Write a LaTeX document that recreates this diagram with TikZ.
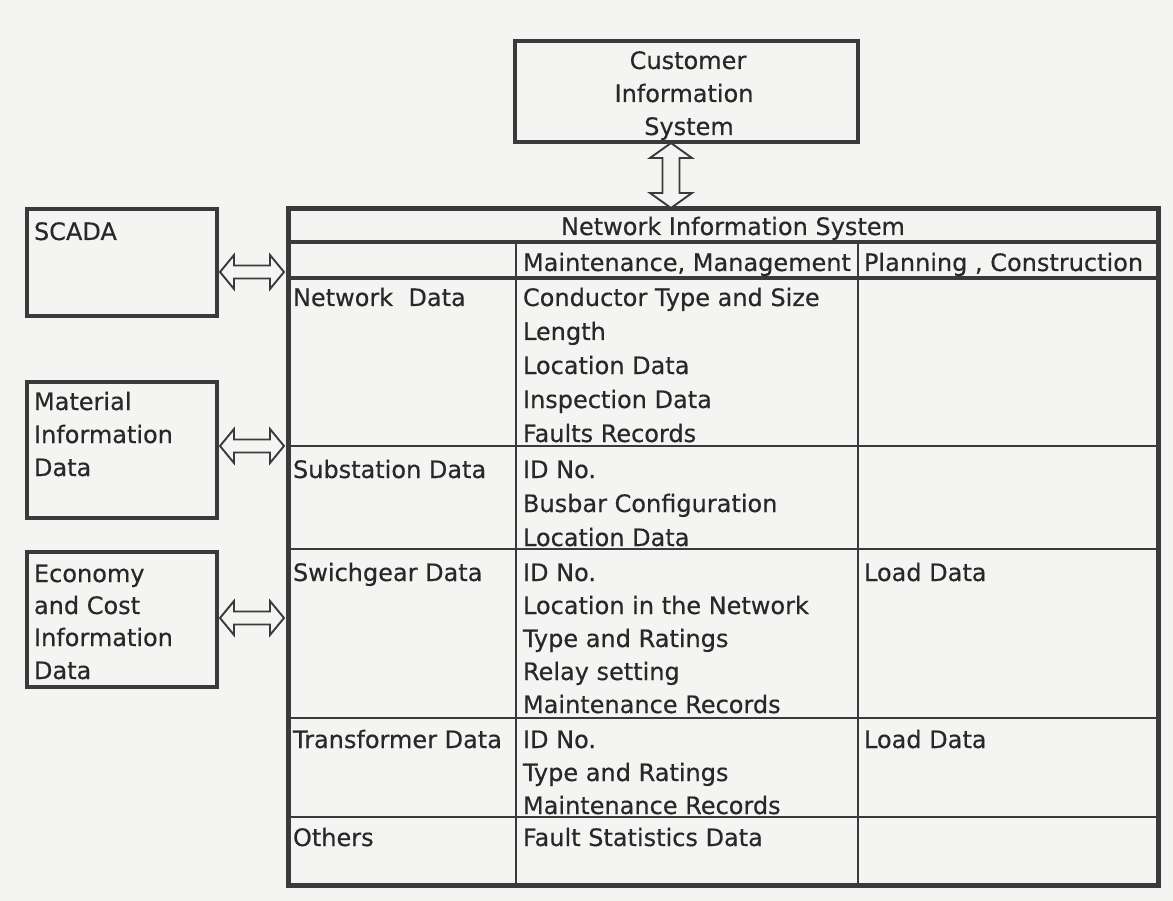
\documentclass[tikz,border=0pt]{standalone}
\usepackage{fontspec}
\setmainfont[FakeBold=0.4]{DejaVu Sans}
\usetikzlibrary{calc}
\definecolor{paper}{RGB}{244,244,242}
\definecolor{ink}{RGB}{58,58,58}
\definecolor{txtc}{RGB}{40,40,40}
\tikzset{
  box/.style={draw=ink, line width=4.5pt, rectangle, inner sep=0pt, outer sep=0pt},
  txt/.style={inner sep=0pt, outer sep=0pt, anchor=base west, text=txtc,
              font=\fontsize{24}{33}\selectfont},
  ctxt/.style={txt, anchor=base},
  rule/.style={draw=ink, line width=2.4pt},
  hfat/.style={draw=ink, line width=1.9pt, fill=paper, line join=miter,
    to path={let \p1=(\tikztostart), \p2=(\tikztotarget) in
      (\x1,\y1) -- (\x1+14pt,\y1+17pt) -- (\x1+14pt,\y1+6.5pt) -- (\x2-14pt,\y1+6.5pt)
      -- (\x2-14pt,\y1+17pt) -- (\x2,\y1) -- (\x2-14pt,\y1-17pt) -- (\x2-14pt,\y1-6.5pt)
      -- (\x1+14pt,\y1-6.5pt) -- (\x1+14pt,\y1-17pt) -- cycle}},
  vfat/.style={draw=ink, line width=1.9pt, fill=paper, line join=miter,
    to path={let \p1=(\tikztostart), \p2=(\tikztotarget) in
      (\x1,\y1) -- (\x1+21pt,\y1-15pt) -- (\x1+8.5pt,\y1-15pt) -- (\x1+8.5pt,\y2+15pt)
      -- (\x1+21pt,\y2+15pt) -- (\x1,\y2) -- (\x1-21pt,\y2+15pt) -- (\x1-8.5pt,\y2+15pt)
      -- (\x1-8.5pt,\y1-15pt) -- (\x1-21pt,\y1-15pt) -- cycle}}
}
\begin{document}
\begin{tikzpicture}[x=1pt, y=-1pt]
\fill[paper] (0,0) rectangle (1173,901);
\useasboundingbox (0,0) rectangle (1173,901);

% Customer Information System
\node[box, minimum width=343pt, minimum height=101pt] (cis) at (686.5,91.5) {};
\node[ctxt] (cis-1) at (688,69) {Customer};
\node[ctxt] (cis-2) at (684,102) {Information};
\node[ctxt] (cis-3) at (689,135) {System};

% external data sources
\node[box, minimum width=190pt, minimum height=107pt, anchor=north west] (scada) at (27,209) {};
\node[txt] (scada-t) at (34,240) {SCADA};

\node[box, minimum width=190pt, minimum height=136pt, anchor=north west] (mat) at (27,382) {};
\node[txt] (mat-1) at (34,410) {Material};
\node[txt] (mat-2) at (34,443) {Information};
\node[txt] (mat-3) at (34,476) {Data};

\node[box, minimum width=190pt, minimum height=135pt, anchor=north west] (eco) at (27,552) {};
\node[txt] (eco-1) at (34,582) {Economy};
\node[txt] (eco-2) at (34,614) {and Cost};
\node[txt] (eco-3) at (34,646) {Information};
\node[txt] (eco-4) at (34,679) {Data};

% Network Information System table frame
\node[box, line width=5pt, minimum width=870pt, minimum height=676pt, anchor=north west] (nis) at (288,209) {};

% table rules
\draw[rule, line width=4pt] (nis.west |- 0,242) -- (nis.east |- 0,242);
\draw[rule, line width=3.4pt] (nis.west |- 0,278) -- (nis.east |- 0,278);
\foreach \yy in {446,549,718,817}
  \draw[rule] (nis.west |- 0,\yy) -- (nis.east |- 0,\yy);
\foreach \xx in {516,858}
  \draw[rule] (\xx,242) -- (nis.south -| \xx,0);

% headers
\node[ctxt] (nis-title) at (733,235) {Network Information System};
\node[txt] (hd-mm) at (523,271) {Maintenance, Management};
\node[txt] (hd-pc) at (864,271) {Planning , Construction};

% row labels
\node[txt] (r-net) at (293,306) {Network\ \ Data};
\node[txt] (r-sub) at (293,478) {Substation Data};
\node[txt] (r-sw)  at (293,581) {Swichgear Data};
\node[txt] (r-tr)  at (293,748) {Transformer Data};
\node[txt] (r-oth) at (293,846) {Others};

% maintenance / management items
\foreach \t [count=\i] in {Conductor Type and Size, Length, Location Data, Inspection Data, Faults Records}
  \node[txt] (net-\i) at (523,{306+34*(\i-1)}) {\t};
\foreach \t [count=\i] in {ID No., Busbar Configuration, Location Data}
  \node[txt] (sub-\i) at (523,{478+34*(\i-1)}) {\t};
\foreach \t [count=\i] in {ID No., Location in the Network, Type and Ratings, Relay setting, Maintenance Records}
  \node[txt] (sw-\i) at (523,{581+33*(\i-1)}) {\t};
\foreach \t [count=\i] in {ID No., Type and Ratings, Maintenance Records}
  \node[txt] (tr-\i) at (523,{748+33*(\i-1)}) {\t};
\node[txt] (oth-1) at (523,846) {Fault Statistics Data};

% planning / construction items
\node[txt] (sw-load) at (864,581) {Load Data};
\node[txt] (tr-load) at (864,748) {Load Data};

% exchange arrows
\coordinate (a1s) at (scada.east |- 0,272);  \coordinate (a1t) at (nis.west |- 0,272);
\coordinate (a2s) at (mat.east |- 0,446);    \coordinate (a2t) at (nis.west |- 0,446);
\coordinate (a3s) at (eco.east |- 0,618);    \coordinate (a3t) at (nis.west |- 0,618);
\draw[hfat] ([xshift=3pt]a1s) to ([xshift=-4pt]a1t);
\draw[hfat] ([xshift=3pt]a2s) to ([xshift=-4pt]a2t);
\draw[hfat] ([xshift=3pt]a3s) to ([xshift=-4pt]a3t);

\coordinate (cs) at (cis.south -| 671,0);
\coordinate (ct) at (nis.north -| 671,0);
\draw[vfat] ([yshift=-1pt]cs) to ([yshift=1pt]ct);
\end{tikzpicture}
\end{document}
